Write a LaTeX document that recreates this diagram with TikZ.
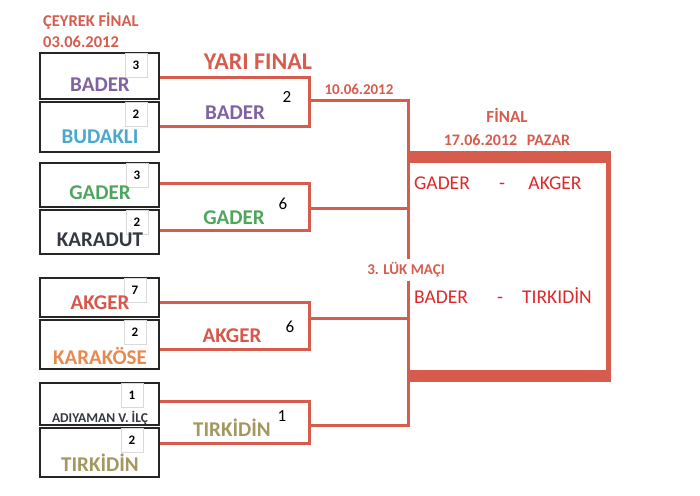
\documentclass[tikz,border=0pt]{standalone}
\usepackage{fontspec}
\setmainfont{Carlito}
\definecolor{lnred}{RGB}{214,92,78}
\definecolor{fnred}{RGB}{222,40,44}
\definecolor{cbader}{RGB}{128,98,162}
\definecolor{cbudakli}{RGB}{72,168,206}
\definecolor{cgader}{RGB}{78,166,92}
\definecolor{cdark}{RGB}{52,56,66}
\definecolor{cakger}{RGB}{216,86,74}
\definecolor{ckarakose}{RGB}{232,138,80}
\definecolor{ctirkidin}{RGB}{164,152,96}
\begin{document}
\begin{tikzpicture}[x=1pt, y=-1pt,
            bracket/.style={draw=lnred, line width=3pt},
            teambox/.style={draw=black!85, line width=1.6pt, minimum width=119pt, inner sep=0pt},
            scorebox/.style={draw=black!15, line width=.6pt, minimum width=22pt, minimum height=24pt, inner sep=0pt, font=\bfseries\fontsize{13}{13}\selectfont},
            title/.style={text=lnred, font=\bfseries\fontsize{16.5}{16.5}\selectfont, inner sep=0pt},
            winner/.style={font=\bfseries\fontsize{21}{21}\selectfont},
            result/.style={text=fnred, font=\fontsize{19.5}{19.5}\selectfont, anchor=base}]
            \useasboundingbox[fill=white] (0,0) rectangle (700,495);
            \node[title, anchor=west] (ceyrek) at (43,21) {ÇEYREK FİNAL};
            \node[title, anchor=west] (ceyrekdate) at (43,42) {03.06.2012};
            \node[text=lnred, font=\bfseries\fontsize{24}{24}\selectfont] (yari) at (258,62) {YARI FINAL};
            \node[text=lnred, font=\bfseries\fontsize{15}{15}\selectfont] (yaridate) at (359,89) {10.06.2012};
            % teams of the quarter final
            \foreach \top/\bot/\ny/\name/\col/\score/\sx [count = \xi] in
                {53/99/85/BADER/cbader/3/136, 102/152/137/BUDAKLI/cbudakli/2/136,
                 163/207/193/GADER/cgader/3/137, 210/254/240/KARADUT/cdark/2/137,
                 278/317/303/AKGER/cakger/7/135, 320/369/356/KARAKÖSE/ckarakose/2/135,
                 383/425/418/{\fontsize{13.5}{13.5}\selectfont ADIYAMAN V. İLÇ}/cdark/1/132, 428/477/463/TIRKİDİN/ctirkidin/2/132}
                {
                    \pgfmathsetmacro\h{\bot-\top}
                    \pgfmathsetmacro\m{(\top+\bot)/2}
                    \node[teambox, minimum height=\h pt] (team\xi) at (99.5,\m) {};
                    \node[scorebox, anchor=north] (score\xi) at (\sx,\top) {\score};
                    \node[text=\col, font=\bfseries\fontsize{21}{21}\selectfont] (name\xi) at (100,\ny) {\name};
                }
            % semi final brackets
            \foreach \ya/\yb/\ym [count = \xi] in {77/126/100, 183/230/208, 302/349/318, 401/443/425}
                {
                    \pgfmathtruncatemacro\xa{2*\xi - 1};
                    \pgfmathtruncatemacro\xb{2*\xi};
                    \coordinate (semi\xi) at (309,\ym);
                    \draw[bracket] (team\xa.east |- 0,\ya) -| (semi\xi) |- (team\xb.east |- 0,\yb);
                }
            \node[winner, text=cbader] (win1) at (235,113) {BADER};
            \node[winner, text=cgader] (win2) at (234,218) {GADER};
            \node[winner, text=cakger] (win3) at (232,336) {AKGER};
            \node[winner, text=ctirkidin] (win4) at (232,428) {TIRKİDİN};
            \foreach \x/\y/\s [count = \xi] in {287/97/2, 283/204/6, 290/327/6, 282/416/1}
                {
                    \node[font=\fontsize{17}{17}\selectfont] (semiscore\xi) at (\x,\y) {\s};
                }
            % final
            \node[text=lnred, font=\bfseries\fontsize{17}{17}\selectfont] (finaltitle) at (507,115) {FİNAL};
            \node[text=lnred, font=\bfseries\fontsize{16}{16}\selectfont] (finaldate) at (507,140) {17.06.2012\hspace{.6em}PAZAR};
            \node[text=lnred, font=\bfseries\fontsize{15}{15}\selectfont] (luk) at (406,270) {3. LÜK MAÇI};
            \coordinate (ftop) at (408,100);
            \coordinate (fbot) at (408,425);
            \fill[lnred] (406.5,151) rectangle (611,163);
            \fill[lnred] (406.5,370) rectangle (611,382);
            \fill[lnred] (606,151) rectangle (611,382);
            \draw[bracket] (semi1) -- (ftop) -- (luk.north -| ftop);
            \draw[bracket] (luk.south -| ftop) -- (fbot) -- (semi4);
            \draw[bracket] (semi2) -- (semi2 -| ftop);
            \draw[bracket] (semi3) -- (semi3 -| ftop);
            \node[result] (fin1a) at (442,189) {GADER};
            \node[result] (fin1s) at (502,189) {-};
            \node[result] (fin1b) at (555,189) {AKGER};
            \node[result] (fin2a) at (441,303) {BADER};
            \node[result] (fin2s) at (500,303) {-};
            \node[result] (fin2b) at (557,303) {TIRKIDİN};
        \end{tikzpicture}
\end{document}
